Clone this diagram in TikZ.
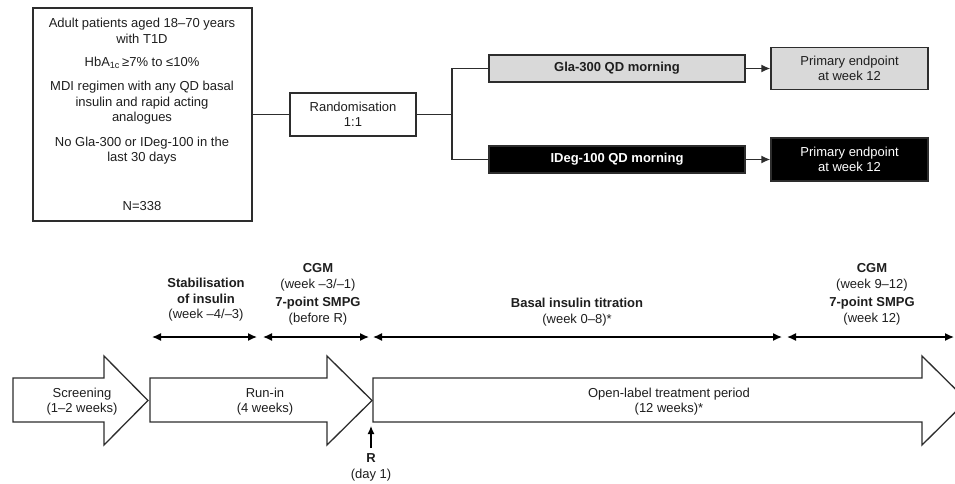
\documentclass[tikz,border=0pt]{standalone}
\usepackage{fontspec}
\setmainfont{Liberation Sans}
\usetikzlibrary{arrows.meta}
\definecolor{edge}{RGB}{45,45,45}
\definecolor{lgray}{RGB}{217,217,217}
\definecolor{ink}{RGB}{30,30,30}
\begin{document}
\begin{tikzpicture}[x=1pt,y=-1pt,
  txt/.style={font=\fontsize{13}{15.5}\selectfont, align=center, inner sep=0pt, text=ink},
  box/.style={draw=edge, line width=1.4pt, inner sep=0pt},
  conn/.style={draw=edge, line width=1.4pt},
  big/.style={draw=edge, line width=1.3pt, fill=white, line join=miter},
  dbl/.style={draw=black, line width=1.4pt, {Latex[length=9pt,width=8pt]}-{Latex[length=9pt,width=8pt]}},
  tip/.style={-{Latex[length=9pt,width=8pt]}}
]
\useasboundingbox (0,0) rectangle (955,483);
\clip (0,0) rectangle (955,483);

% eligibility box
\node[box, minimum width=219pt, minimum height=213pt] (elig) at (142.5,114.5) {};
\node[txt] (e1) at (142,31) {Adult patients aged 18–70 years\\with T1D};
\node[txt] (e2) at (142,63) {HbA\textsubscript{1c}\,≥7\% to ≤10\%};
\node[txt] (e3) at (142,103) {MDI regimen with any QD basal\\insulin and rapid acting\\analogues};
\node[txt] (e4) at (142,150.5) {No Gla-300 or IDeg-100 in the\\last 30 days};
\node[txt] (e5) at (142,206) {N=338};

% randomisation and arms
\node[box, txt, minimum width=126pt, minimum height=43pt] (rand) at (353,114.5) {Randomisation\\1:1};
\node[box, txt, fill=lgray, minimum width=256pt, minimum height=27pt, font=\fontsize{13}{15.5}\selectfont\bfseries] (gla) at (617,68.5) {Gla-300 QD morning};
\node[box, txt, fill=black, text=white, minimum width=256pt, minimum height=27pt, font=\fontsize{13}{15.5}\selectfont\bfseries] (ideg) at (617,159.5) {IDeg-100 QD morning};
\node[box, txt, fill=lgray, minimum width=157pt, minimum height=42pt] (pe1) at (849.5,68.5) {Primary endpoint\\at week 12};
\node[box, txt, fill=black, text=white, minimum width=157pt, minimum height=43pt] (pe2) at (849.5,159.5) {Primary endpoint\\at week 12};

\coordinate (split) at (452,114.5);
\draw[conn] (elig.east) -- (rand.west);
\draw[conn] (rand.east) -- (split);
\draw[conn] (split) |- (gla.west);
\draw[conn] (split) |- (ideg.west);
\draw[conn, tip] (gla.east) -- (pe1.west);
\draw[conn, tip] (ideg.east) -- (pe2.west);

% timeline labels
\node[txt] (stab) at (206,300) {\textbf{Stabilisation}\\\textbf{of insulin}\\(week –4/–3)};
\node[txt] (cgm1) at (318,294.5) {\textbf{CGM}\\(week –3/–1)\\[3pt]\textbf{7-point SMPG}\\(before R)};
\node[txt] (basal) at (577,312) {\textbf{Basal insulin titration}\\(week 0–8)*};
\node[txt] (cgm2) at (872,294.5) {\textbf{CGM}\\(week 9–12)\\[3pt]\textbf{7-point SMPG}\\(week 12)};

% double arrows
\coordinate (d1a) at (152,337); \coordinate (d1b) at (257,337);
\coordinate (d2a) at (263,337); \coordinate (d2b) at (369,337);
\coordinate (d3a) at (373,337); \coordinate (d3b) at (782,337);
\coordinate (d4a) at (787,337); \coordinate (d4b) at (954,337);
\draw[dbl] (d1a) -- (d1b);
\draw[dbl] (d2a) -- (d2b);
\draw[dbl] (d3a) -- (d3b);
\draw[dbl] (d4a) -- (d4b);

% big phase arrows
\draw[big] (13,378) -- (104,378) -- (104,356) -- (148,400.5) -- (104,445) -- (104,422) -- (13,422) -- cycle;
\draw[big] (150,378) -- (327,378) -- (327,356) -- (372,400.5) -- (327,445) -- (327,422) -- (150,422) -- cycle;
\draw[big] (373,378) -- (922,378) -- (922,356) -- (967,400.5) -- (922,445) -- (922,422) -- (373,422) -- cycle;
\node[txt] (scr) at (82,401.5) {Screening\\(1–2 weeks)};
\node[txt] (run) at (265,401.5) {Run-in\\(4 weeks)};
\node[txt] (open) at (669,401.5) {Open-label treatment period\\(12 weeks)*};

% randomisation marker
\node[txt] (rmark) at (371,467.5) {\textbf{R}\\(day 1)};
\coordinate (rtail) at (371,448);
\coordinate (rtip) at (371,426);
\draw[draw=black, line width=1.3pt, -{Latex[length=8pt,width=7pt]}] (rtail) -- (rtip);
\end{tikzpicture}
\end{document}
